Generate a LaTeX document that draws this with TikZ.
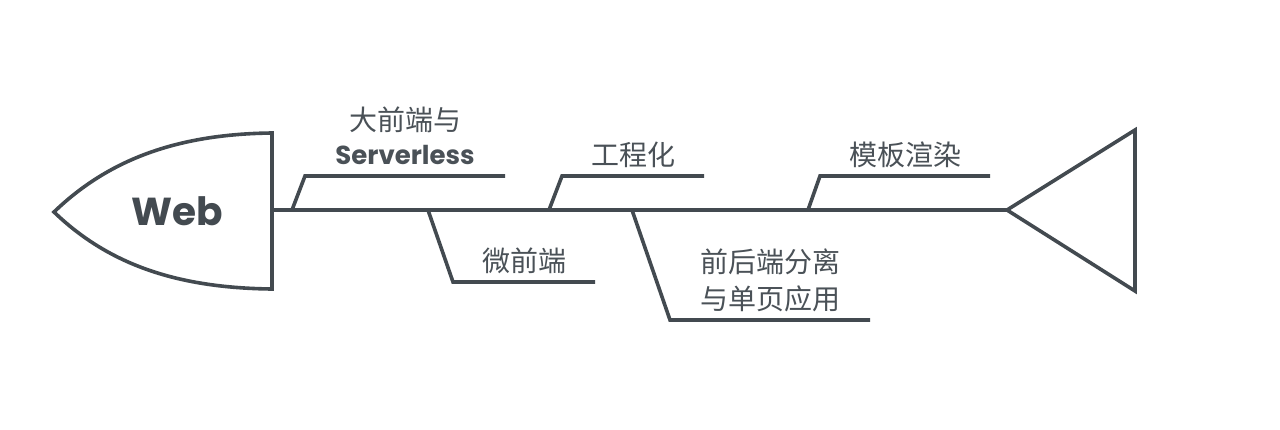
\documentclass[tikz,border=0pt]{standalone}
\usepackage{fontspec}
\usepackage{xcolor}
\setmainfont{Noto Sans CJK SC}
\newfontfamily\latinfont{Poppins}
\usetikzlibrary{positioning, calc}
\definecolor{bone}{HTML}{434A50}
\definecolor{label}{HTML}{4A5157}

\tikzset{
  bone line/.style = {draw = bone, line width = 3.6pt, line join = miter},
  cause/.style = {text = label, font = \fontsize{28}{37}\selectfont, align = center,
    inner sep = 0pt},
}

\begin{document}
\begin{tikzpicture}[x = 1pt, y = -1pt]
        \useasboundingbox [fill = white] (0,0) rectangle (1280,429);
        % head and tail
        \draw [bone line] (54,212) .. controls (110,158) and (180,134) .. (272,133)
        -- (272,289) .. controls (180,288) and (110,266) .. cycle;
        \node (web) [text = bone, font = \latinfont\bfseries\fontsize{39}{44}\selectfont]
        at (177,211) {Web} ;
        \coordinate (neck) at (272,210);
        \coordinate (tail) at (1007,210);
        \draw [bone line] (tail) -- (1135,130) -- (1135,291) -- cycle;
        % spine
        \draw [bone line] (neck) -- (tail);
        % upper bones
        \draw [bone line] ($(neck) + (20,0)$) -- ++ (13,-34) -- ++ (200,0)
        node (serverless) [pos = 0.5, above = 9pt, cause]
        {大前端与\\[-3pt]{\latinfont\bfseries\fontsize{26}{30}\selectfont Serverless}};
        \draw [bone line] ($(neck) + (277,0)$) -- ++ (13,-34) -- ++ (142,0)
        node (engineering) [pos = 0.5, above = 6pt, cause] {工程化};
        \draw [bone line] ($(neck) + (536,0)$) -- ++ (12,-34) -- ++ (170,0)
        node (template) [pos = 0.5, above = 6pt, cause] {模板渲染};
        % lower bones
        \draw [bone line] ($(neck) + (156,0)$) -- ++ (25,72) -- ++ (142,0)
        node (micro) [pos = 0.5, above = 6pt, cause] {微前端};
        \draw [bone line] ($(neck) + (360,0)$) -- ++ (38,110) -- ++ (200,0)
        node (spa) [pos = 0.5, above = 6pt, cause] {前后端分离\\与单页应用};
    \end{tikzpicture}
\end{document}
